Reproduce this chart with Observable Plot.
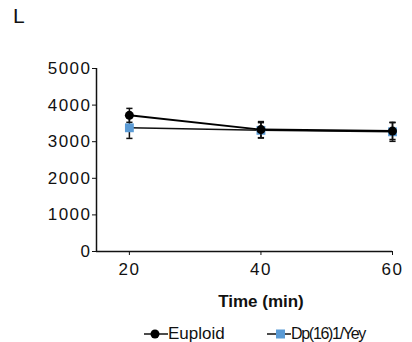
<!DOCTYPE html>
<html>
<head>
<meta charset="utf-8">
<script src="https://cdn.jsdelivr.net/npm/d3@7"></script>
<script src="https://cdn.jsdelivr.net/npm/@observablehq/plot@0.6"></script>
<style>
  html, body { margin: 0; padding: 0; background: #fff; }
  #wrap { position: relative; width: 412px; height: 342px; overflow: hidden; font-family: "Liberation Sans", Arial, sans-serif; color: #111; }
  #panel { position: absolute; left: 13px; top: 4px; font-size: 21px; }
  #legend { position: absolute; left: 0; top: 324px; width: 412px; height: 20px; }
  .item { position: absolute; top: 0; display: flex; align-items: center; font-size: 17px; line-height: 20px; }
  .item svg { display: block; }
  #chart g[aria-label="y-axis tick label"] text,
  #chart g[aria-label="x-axis tick label"] text { letter-spacing: 1.5px; }
</style>
</head>
<body>
<div id="wrap">
  <div id="chart"></div>
  <div id="panel">L</div>
  <div id="legend"></div>
</div>
<script>
// Time points (min)
const times = [20, 40, 60];
// Series names and colours
const seriesNames = ["Euploid", "Dp(16)1/Yey"];
const seriesFill = ["#000000", "#5b9bd5"];
// Means and error half-widths for each series
const euploidMean = [3720, 3330, 3290];
const euploidErr = [190, 220, 230];
const dpMean = [3380, 3310, 3270];
const dpErr = [290, 210, 260];
// Axis ticks and title
const yTicks = [0, 1000, 2000, 3000, 4000, 5000];
const xTicks = [20, 40, 60];
const xTitle = "Time (min)";

const rows = (name, mean, err) => times.map((t, i) => ({series: name, time: t, value: mean[i], lo: mean[i] - err[i], hi: mean[i] + err[i]}));
const euploid = rows(seriesNames[0], euploidMean, euploidErr);
const dp = rows(seriesNames[1], dpMean, dpErr);

// horizontal bar used as an error-bar cap
const capSymbol = {draw(ctx, size) { const w = Math.sqrt(size); ctx.moveTo(-w / 2, 0); ctx.lineTo(w / 2, 0); }};

const errorMarks = (data) => [
  Plot.ruleX(data, {x: "time", y1: "lo", y2: "hi", stroke: "#111", strokeWidth: 1.5}),
  Plot.dot(data, {x: "time", y: "hi", symbol: capSymbol, r: 3.5, stroke: "#111", strokeWidth: 1.5}),
  Plot.dot(data, {x: "time", y: "lo", symbol: capSymbol, r: 3.5, stroke: "#111", strokeWidth: 1.5})
];

const chart = Plot.plot({
  width: 412,
  height: 318,
  marginTop: 68,
  marginLeft: 96,
  marginRight: 20,
  marginBottom: 67,
  style: {fontFamily: "Liberation Sans, Arial, sans-serif", fontSize: "17px", color: "#111", background: "#fff"},
  x: {domain: [15, 60], ticks: xTicks},
  y: {domain: [0, 5000], ticks: yTicks},
  marks: [
    Plot.axisY({ticks: yTicks, tickSize: 4, tickPadding: 1, label: null, fontSize: 17, tickFormat: d => String(d)}),
    Plot.axisX({ticks: xTicks, tickSize: 4, tickPadding: 7, label: null, fontSize: 17}),
    Plot.ruleX([15], {y1: 0, y2: 5000, stroke: "#111", strokeWidth: 1.5}),
    Plot.ruleY([0], {x1: 15, x2: 60, stroke: "#111", strokeWidth: 1.5}),
    // Dp(16)1/Yey series
    ...errorMarks(dp),
    Plot.line(dp, {x: "time", y: "value", stroke: "#111", strokeWidth: 1.5}),
    Plot.dot(dp, {x: "time", y: "value", symbol: "square", r: 5, fill: seriesFill[1]}),
    // Euploid series
    ...errorMarks(euploid),
    Plot.line(euploid, {x: "time", y: "value", stroke: "#000", strokeWidth: 2}),
    Plot.dot(euploid, {x: "time", y: "value", symbol: "circle", r: 4.5, fill: seriesFill[0]}),
    Plot.text([{time: 40, label: xTitle}], {x: "time", text: "label", frameAnchor: "bottom", dy: 55, fontWeight: "bold", fontSize: 17, fill: "#111"})
  ]
});
document.getElementById("chart").appendChild(chart);

// Legend below the plot
const legend = d3.select("#legend");
const legendLeft = [144, 267];
seriesNames.forEach((name, i) => {
  const item = legend.append("div").attr("class", "item").style("left", legendLeft[i] + "px");
  const sw = item.append("svg").attr("width", 24).attr("height", 20);
  sw.append("line").attr("x1", 0).attr("x2", 24).attr("y1", 10).attr("y2", 10).attr("stroke", "#111").attr("stroke-width", 1.5);
  if (i === 0) sw.append("circle").attr("cx", 11).attr("cy", 10).attr("r", 4.5).attr("fill", seriesFill[i]);
  else sw.append("rect").attr("x", 9).attr("y", 5.5).attr("width", 9).attr("height", 9).attr("fill", seriesFill[i]);
  const label = item.append("span").text(name);
  if (i === 1) label.style("font-size", "16px").style("letter-spacing", "-1.3px");
});
</script>
</body>
</html>
